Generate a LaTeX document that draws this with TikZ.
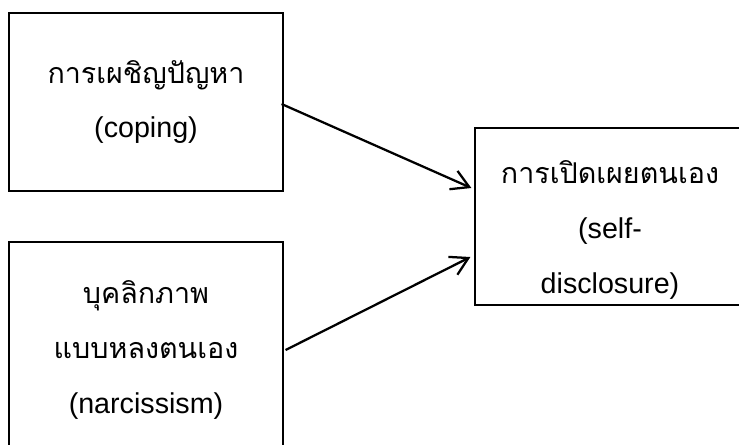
\documentclass[tikz,border=0pt]{standalone}
\usepackage{fontspec}
\setmainfont{Liberation Sans}
\newfontfamily\thaifont[Script=Thai]{Loma}
\usetikzlibrary{arrows.meta, calc, positioning}

\begin{document}
\begin{tikzpicture}[x=0.75pt, y=-0.75pt,
  box/.style={draw, rectangle, line width=0.9pt, align=center, inner sep=0pt},
  txt/.style={align=center, inner sep=0pt, font=\fontsize{21.5pt}{41pt}\selectfont},
  arr/.style={-{Straight Barb[length=13pt, width=15pt, line width=1.7pt]}, line width=1.7pt},
]
\useasboundingbox (0,0) rectangle (739,444);
\clip (0,0) rectangle (739,444);

% boxes
\node[box, minimum width=205.5pt, minimum height=133.5pt] (coping) at (146,102) {};
\node[box, minimum width=205.5pt, minimum height=162pt]   (narc)   at (146,350) {};
\node[box, minimum width=202.5pt, minimum height=132.75pt] (effect) at (610,216.5) {};

% texts
\node[txt] (copingtext) at (coping) {{\thaifont การเผชิญปัญหา}\\(coping)};
\node[txt] (narctext)   at (narc)   {{\thaifont บุคลิกภาพ}\\{\thaifont แบบหลงตนเอง}\\(narcissism)};
\node[txt] (effecttext) at (610,230) {{\thaifont การเปิดเผยตนเอง}\\(self-\\disclosure)};

% paths
\draw[arr] ($(coping.east)+(-2,2)$) -- ($(effect.west)+(-3,-28.5)$);
\draw[arr] ($(narc.east)+(2,0)$)    -- ($(effect.west)+(-4,40.5)$);

\end{tikzpicture}
\end{document}
